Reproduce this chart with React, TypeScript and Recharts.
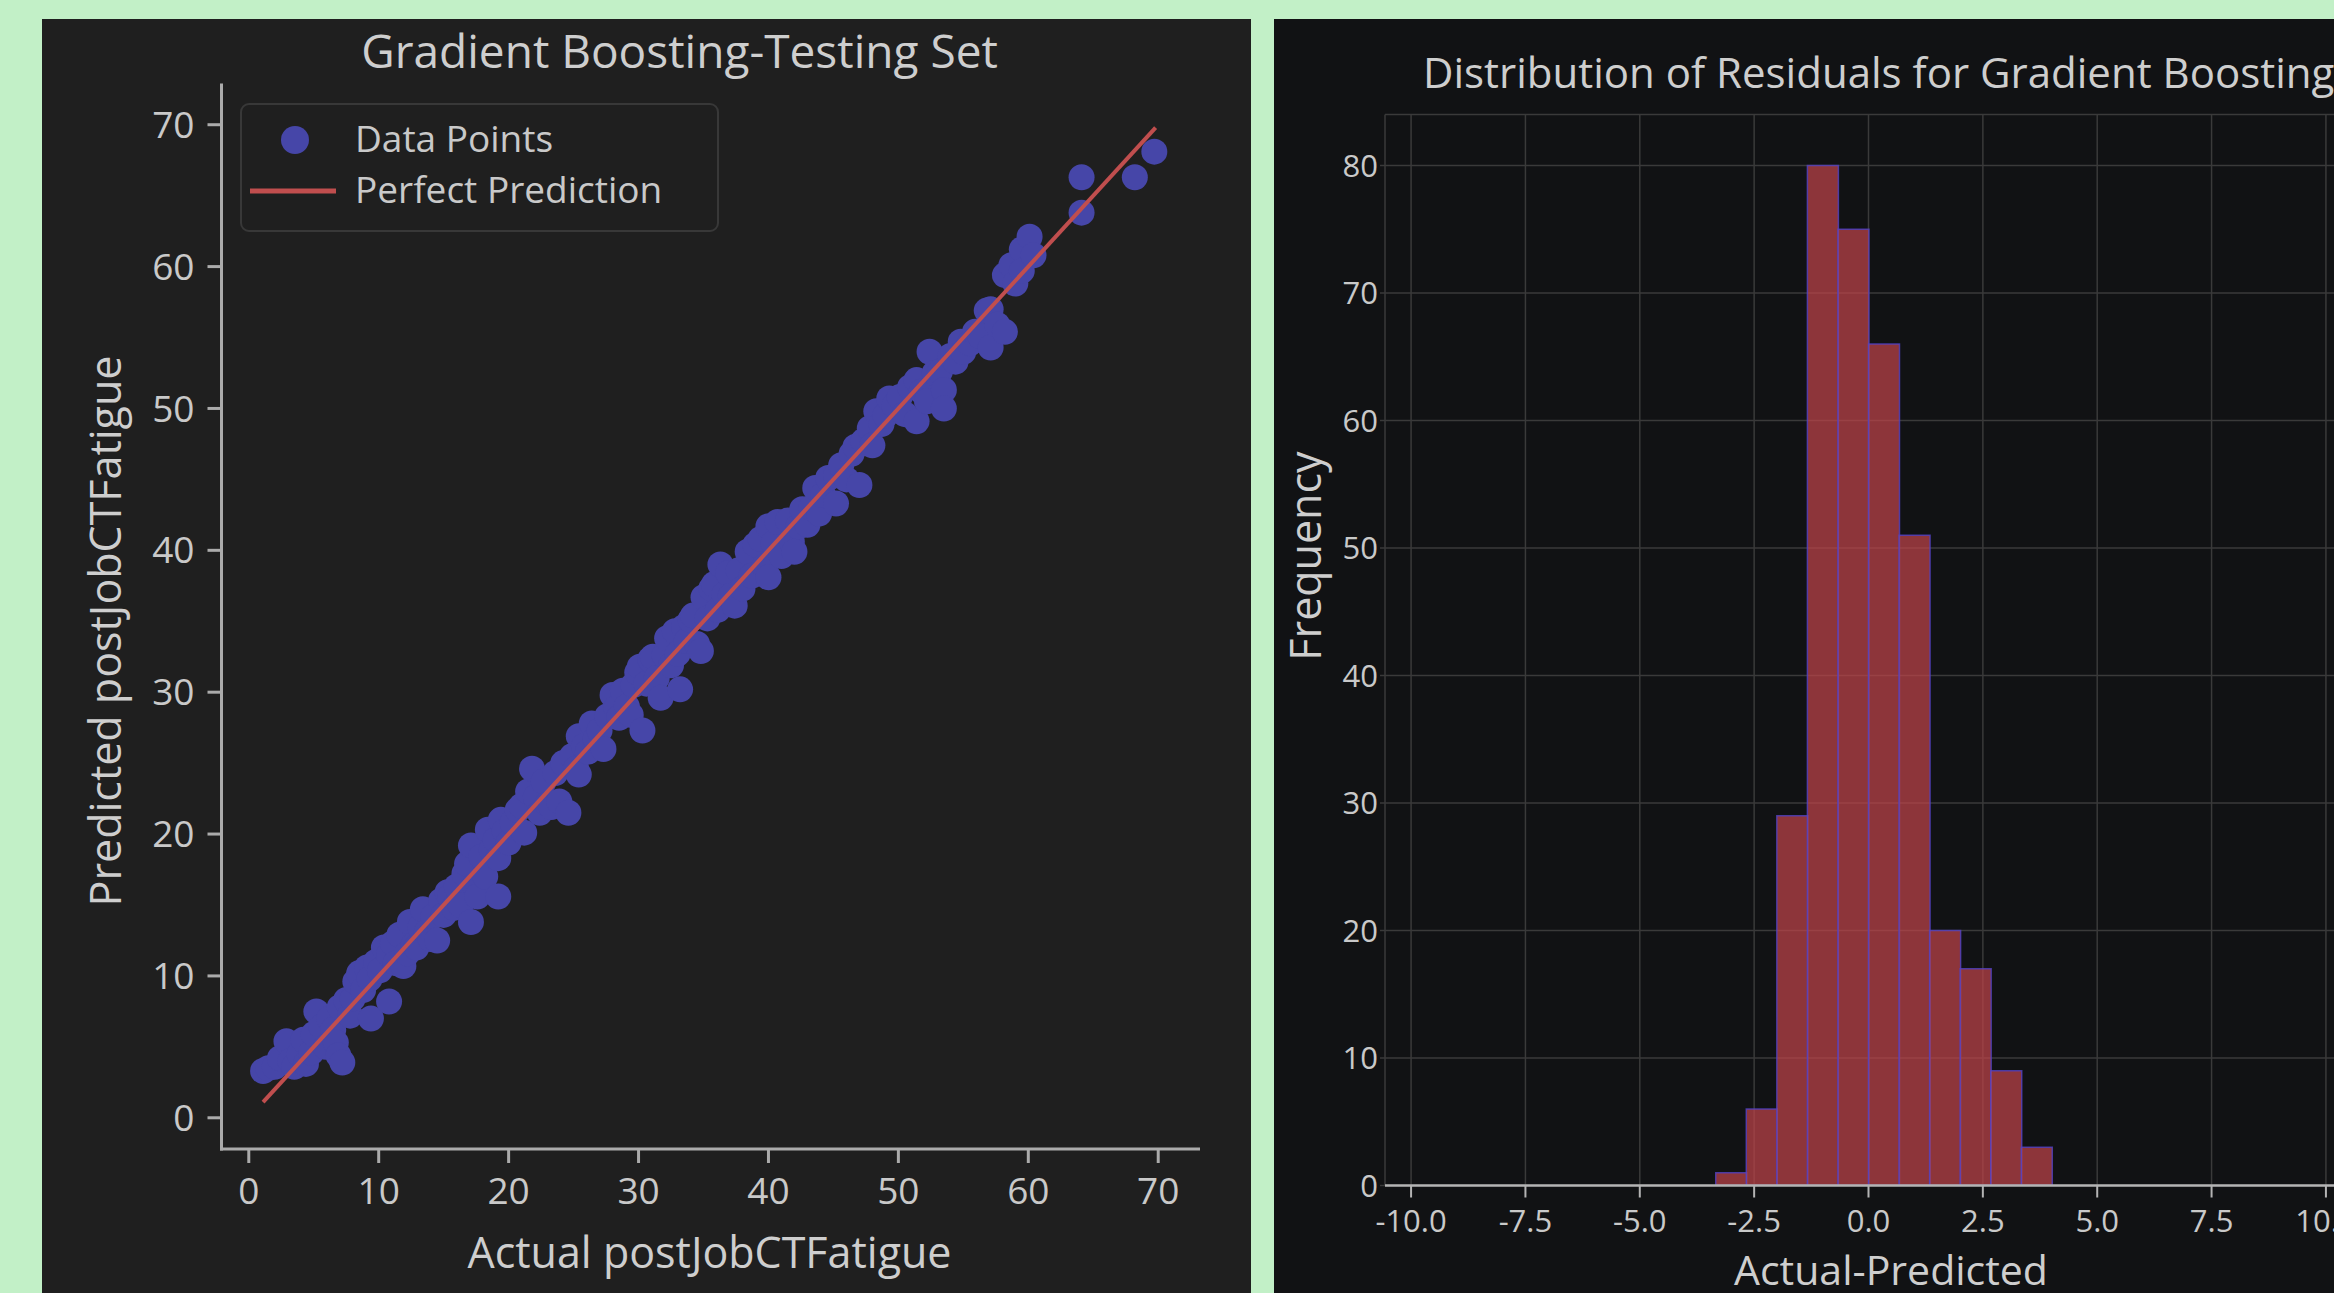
import React from "react";
import { Bar, CartesianGrid, ComposedChart, Legend, Scatter, XAxis, YAxis } from "recharts";

const FONT = "'Open Sans', Lato, sans-serif";
const TEXT = "#c9c9c9";
const FRAME = "#ababab";
const BLUE = "#4646a8";
const RED = "#c04e4e";
const GRID = "#3a3a3a";

// test set: actual vs predicted postJobCTFatigue
const actual = [
  1.1, 1.5, 2.0, 2.4, 2.9, 3.2, 3.5, 3.9, 4.2, 4.4, 4.8, 5.0, 5.2, 5.6, 5.9,
  6.2, 6.5, 6.7, 6.9, 7.2, 7.0, 7.5, 7.8, 8.0, 8.2, 8.5, 8.8, 9.1, 9.3, 9.4,
  9.8, 10.1, 10.4, 10.8, 10.8, 11.1, 11.3, 11.6, 11.9, 12.2, 12.4, 12.7, 12.9, 13.2, 13.4,
  13.7, 14.0, 14.2, 14.5, 14.8, 15.0, 15.3, 15.5, 15.8, 16.0, 16.3, 16.6, 16.8, 17.1, 17.1,
  17.4, 17.6, 17.9, 18.2, 18.4, 18.7, 19.0, 19.2, 19.2, 19.4, 19.7, 20.0, 20.3, 20.7, 21.0,
  21.2, 21.5, 21.8, 22.1, 22.4, 22.7, 23.0, 23.3, 23.6, 23.9, 24.2, 24.6, 24.9, 25.2, 25.4,
  25.4, 25.8, 26.1, 26.4, 26.7, 27.0, 27.3, 27.6, 28.0, 28.3, 28.5, 28.8, 29.1, 29.4, 29.6,
  29.9, 30.1, 30.3, 30.6, 30.9, 31.1, 31.4, 31.7, 32.0, 32.2, 32.5, 32.8, 33.0, 33.2, 33.5,
  33.7, 34.0, 34.2, 34.5, 34.8, 35.0, 35.3, 35.6, 35.8, 36.1, 36.3, 36.6, 36.9, 37.1, 37.4,
  37.7, 38.0, 38.4, 38.7, 39.0, 39.4, 39.7, 40.0, 40.0, 40.4, 40.7, 41.0, 41.5, 41.8, 42.0,
  42.3, 42.6, 43.0, 43.3, 43.6, 43.9, 44.2, 44.6, 45.2, 45.2, 45.6, 46.0, 46.4, 46.7, 47.0,
  47.3, 47.8, 48.0, 48.3, 48.7, 49.0, 49.3, 49.7, 50.1, 50.5, 50.9, 51.4, 51.4, 51.8, 52.2,
  52.4, 52.8, 53.2, 53.5, 53.5, 54.0, 54.4, 54.8, 55.0, 55.5, 55.9, 56.3, 56.8, 57.1, 57.1,
  57.6, 58.2, 58.2, 58.7, 59.0, 59.5, 59.5, 60.1, 60.4, 64.1, 64.1, 68.2, 69.7
];
const predicted = [
  3.3, 3.5, 3.6, 4.2, 5.4, 4.0, 3.6, 4.5, 5.5, 3.8, 4.6, 5.9, 7.5, 6.4, 5.0,
  7.0, 6.2, 5.3, 4.4, 3.9, 7.8, 8.3, 7.2, 8.4, 9.6, 10.2, 9.0, 10.6, 9.8, 7.0,
  11.0, 10.4, 12.0, 8.2, 11.5, 12.3, 10.9, 12.9, 10.7, 11.6, 13.8, 12.2, 12.0, 13.4, 14.7,
  13.1, 12.6, 14.2, 12.5, 15.3, 14.3, 15.9, 15.6, 14.8, 16.3, 15.0, 17.2, 17.9, 13.8, 19.2,
  16.4, 15.6, 18.4, 17.0, 20.3, 18.9, 19.6, 15.6, 18.3, 21.0, 20.2, 19.4, 20.8, 21.7, 22.0,
  20.1, 23.0, 24.6, 22.6, 21.5, 23.7, 22.1, 21.9, 24.3, 22.3, 25.0, 21.5, 25.5, 24.6, 26.9,
  24.2, 26.2, 25.8, 27.8, 26.7, 27.3, 26.0, 28.3, 29.8, 28.9, 28.2, 30.1, 29.0, 28.4, 30.5,
  31.4, 31.8, 27.3, 30.6, 32.3, 32.5, 31.0, 29.6, 32.6, 33.8, 31.9, 34.3, 32.7, 30.2, 34.6,
  33.6, 35.1, 35.4, 33.4, 32.9, 36.7, 35.2, 37.3, 37.6, 35.8, 39.0, 36.9, 38.4, 36.8, 36.1,
  38.6, 37.3, 39.9, 38.2, 40.4, 40.8, 38.9, 41.7, 38.1, 40.5, 42.0, 39.6, 42.1, 40.6, 39.9,
  41.7, 42.9, 41.8, 43.0, 44.4, 42.6, 43.9, 45.1, 45.3, 43.3, 46.0, 45.0, 46.8, 47.3, 44.6,
  47.7, 48.6, 47.4, 49.8, 48.9, 49.5, 50.7, 50.2, 50.8, 49.6, 51.5, 52.0, 49.1, 51.2, 50.5,
  54.0, 52.5, 52.6, 51.3, 50.0, 53.7, 53.3, 54.7, 54.0, 54.6, 55.4, 55.1, 56.9, 57.0, 54.3,
  55.9, 55.4, 59.4, 60.1, 58.8, 61.2, 59.7, 62.1, 60.8, 66.3, 63.8, 66.3, 68.1
];
// perfect prediction line runs from the smallest to the largest actual value
const perfectEnds = [1.1, 69.8];
const scatterTicks = [0, 10, 20, 30, 40, 50, 60, 70];

// residual histogram
const binEdges = [-3.34, -2.672, -2.004, -1.336, -0.668, 0, 0.668, 1.336, 2.004, 2.672, 3.34, 4.008];
const binCounts = [1, 6, 29, 80, 75, 66, 51, 20, 17, 9, 3];
const residualTicks = [-10, -7.5, -5, -2.5, 0, 2.5, 5, 7.5, 10];
const frequencyTicks = [0, 10, 20, 30, 40, 50, 60, 70, 80];

const points = actual.map((a, i) => ({ actual: a, predicted: predicted[i] }));
const perfectLine = perfectEnds.map((v) => ({ actual: v, predicted: v }));
const histData = binCounts.map((count, i) => ({ mid: (binEdges[i] + binEdges[i + 1]) / 2, count }));

function LegendBox() {
  return (
    <div
      style={{
        width: 479,
        height: 129,
        boxSizing: "border-box",
        border: "2px solid #383838",
        borderRadius: 9,
        fontFamily: FONT,
        fontSize: 37,
        color: TEXT,
        position: "relative"
      }}
    >
      <svg width={110} height={125} style={{ position: "absolute", left: 0, top: 0 }}>
        <circle cx={53} cy={35} r={14} fill={BLUE} />
        <line x1={8} x2={94} y1={86} y2={86} stroke={RED} strokeWidth={5} />
      </svg>
      <div style={{ position: "absolute", left: 113, top: 12, lineHeight: "42px" }}>Data Points</div>
      <div style={{ position: "absolute", left: 113, top: 63, lineHeight: "42px" }}>Perfect Prediction</div>
    </div>
  );
}

function ScatterPanel() {
  const frameLine = { stroke: FRAME, strokeWidth: 3, strokeLinecap: "square" as const };
  const tickStyle = { fill: TEXT, fontSize: 37, fontFamily: FONT };
  return (
    <ComposedChart width={1209} height={1274} margin={{ top: 66, right: 52.5, bottom: 64, left: 79.5 }}>
      <XAxis
        type="number"
        dataKey="actual"
        domain={[-2.1, 73.1]}
        ticks={scatterTicks}
        allowDataOverflow
        height={80}
        tickSize={14}
        tickMargin={15}
        axisLine={frameLine}
        tickLine={{ stroke: FRAME, strokeWidth: 3 }}
        tick={tickStyle}
      />
      <XAxis xAxisId="top" orientation="top" type="number" domain={[-2.1, 73.1]} height={0} tick={false} tickLine={false} axisLine={frameLine} />
      <YAxis
        type="number"
        dataKey="predicted"
        domain={[-2.2, 72.8]}
        ticks={scatterTicks}
        allowDataOverflow
        width={100}
        tickSize={14}
        tickMargin={13}
        axisLine={frameLine}
        tickLine={{ stroke: FRAME, strokeWidth: 3 }}
        tick={tickStyle}
      />
      <YAxis yAxisId="right" orientation="right" type="number" domain={[-2.2, 72.8]} width={0} tick={false} tickLine={false} axisLine={frameLine} />
      <Scatter
        name="Data Points"
        data={points}
        fill={BLUE}
        isAnimationActive={false}
        shape={(p: any) => <circle cx={p.cx} cy={p.cy} r={13} fill={BLUE} />}
      />
      <Scatter
        name="Perfect Prediction"
        data={perfectLine}
        line={{ stroke: RED, strokeWidth: 4 }}
        isAnimationActive={false}
        shape={() => <g />}
      />
      <Legend
        layout="vertical"
        align="center"
        verticalAlign="middle"
        wrapperStyle={{ left: 198, top: 84, width: 479, height: 129 }}
        content={() => <LegendBox />}
      />
    </ComposedChart>
  );
}

function HistogramPanel() {
  const spine = { stroke: "#b4b4b4", strokeWidth: 2.5 };
  const tickStyle = { fill: TEXT, fontSize: 31, fontFamily: FONT };
  return (
    <ComposedChart
      width={1100}
      height={1274}
      data={histData}
      barCategoryGap={0}
      barGap={0}
      margin={{ top: 95.5, right: 22, bottom: 57.5, left: 51 }}
    >
      <CartesianGrid stroke={GRID} strokeWidth={1.5} />
      <XAxis
        type="number"
        dataKey="mid"
        domain={[-10.57, 10.57]}
        ticks={residualTicks}
        allowDataOverflow
        tickFormatter={(v: number) => v.toFixed(1)}
        height={50}
        tickSize={12}
        tickMargin={12}
        axisLine={spine}
        tickLine={{ stroke: "#b4b4b4", strokeWidth: 2 }}
        tick={tickStyle}
      />
      <XAxis xAxisId="top" orientation="top" type="number" domain={[-10.57, 10.57]} height={0} tick={false} tickLine={false} axisLine={spine} />
      <YAxis
        type="number"
        domain={[0, 84]}
        ticks={frequencyTicks}
        allowDataOverflow
        width={60}
        tickSize={5}
        tickMargin={2}
        axisLine={false}
        tickLine={{ stroke: GRID, strokeWidth: 1.5 }}
        tick={tickStyle}
      />
      <Bar
        dataKey="count"
        fill="#c2444a"
        fillOpacity={0.7}
        stroke="#5142c4"
        strokeOpacity={0.8}
        strokeWidth={1.5}
        isAnimationActive={false}
      />
    </ComposedChart>
  );
}

export default function App() {
  const label = { fill: "#cecece", fontFamily: FONT };
  return (
    <div style={{ position: "fixed", left: 0, top: 0, width: 2334, height: 1293, overflow: "hidden", background: "#c2f0c7" }}>
      <div style={{ position: "absolute", left: 42, top: 19, width: 1209, height: 1274, background: "#1f1f1f", overflow: "hidden" }}>
        <ScatterPanel />
      </div>
      <div style={{ position: "absolute", left: 1274, top: 19, width: 1060, height: 1274, background: "#111214", overflow: "hidden" }}>
        <HistogramPanel />
      </div>
      <svg width={2334} height={1293} style={{ position: "absolute", left: 0, top: 0, pointerEvents: "none" }}>
        <text x={679.6} y={68} textAnchor="middle" fontSize={46} {...label}>Gradient Boosting-Testing Set</text>
        <text x={709.5} y={1268} textAnchor="middle" fontSize={43} {...label}>Actual postJobCTFatigue</text>
        <text transform="translate(106,631) rotate(-90)" dy="0.35em" textAnchor="middle" fontSize={43} {...label}>Predicted postJobCTFatigue</text>
        <text x={1423} y={88} textAnchor="start" fontSize={42} {...label}>Distribution of Residuals for Gradient Boosting</text>
        <text x={1891} y={1285} textAnchor="middle" fontSize={41} {...label}>Actual-Predicted</text>
        <text transform="translate(1306,556) rotate(-90)" dy="0.35em" textAnchor="middle" fontSize={43} {...label}>Frequency</text>
      </svg>
    </div>
  );
}
